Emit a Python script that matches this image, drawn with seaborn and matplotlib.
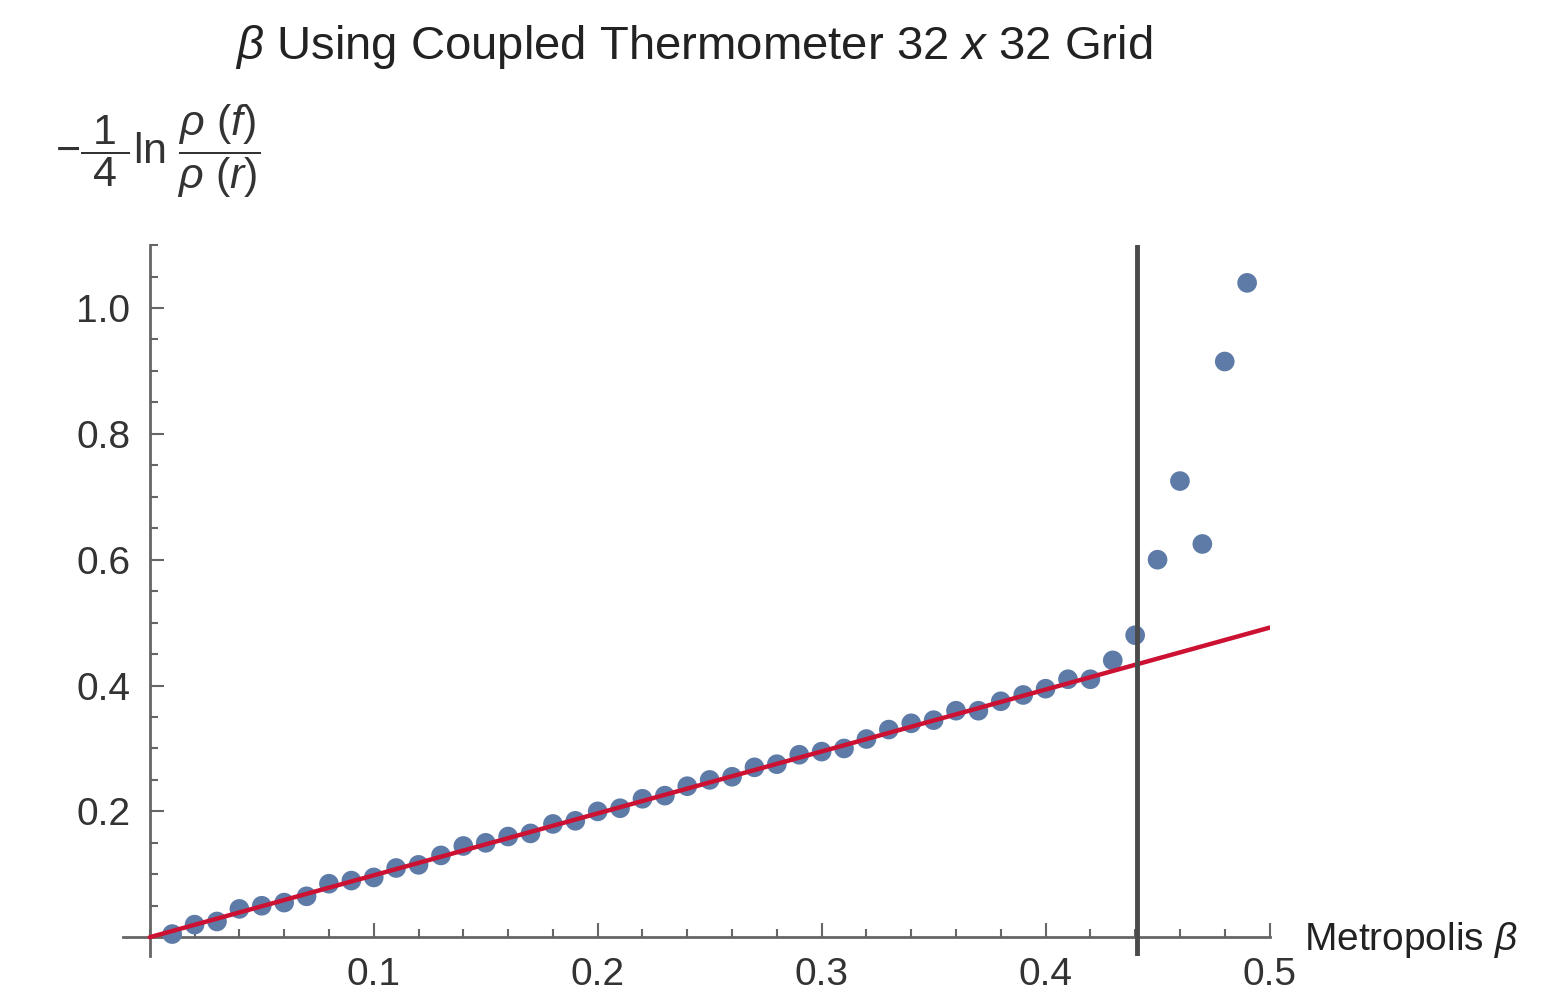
import numpy as np
import pandas as pd
import seaborn as sns
import matplotlib.pyplot as plt
from matplotlib.ticker import MultipleLocator, FixedLocator

# Data
beta = [0.01, 0.02, 0.03, 0.04, 0.05, 0.06, 0.07, 0.08, 0.09, 0.10,
        0.11, 0.12, 0.13, 0.14, 0.15, 0.16, 0.17, 0.18, 0.19, 0.20,
        0.21, 0.22, 0.23, 0.24, 0.25, 0.26, 0.27, 0.28, 0.29, 0.30,
        0.31, 0.32, 0.33, 0.34, 0.35, 0.36, 0.37, 0.38, 0.39, 0.40,
        0.41, 0.42, 0.43, 0.44, 0.45, 0.46, 0.47, 0.48, 0.49]
estimate = [0.005, 0.02, 0.025, 0.045, 0.05, 0.055, 0.065, 0.085, 0.09, 0.095,
            0.11, 0.115, 0.13, 0.145, 0.15, 0.16, 0.165, 0.18, 0.185, 0.20,
            0.205, 0.22, 0.225, 0.24, 0.25, 0.255, 0.27, 0.275, 0.29, 0.295,
            0.30, 0.315, 0.33, 0.34, 0.345, 0.36, 0.36, 0.375, 0.385, 0.395,
            0.41, 0.41, 0.44, 0.48, 0.60, 0.725, 0.625, 0.915, 1.04]
fit_x = [0.0, 0.5]
fit_y = [0.0, 0.492]
beta_c = 0.4407

df = pd.DataFrame({"beta": beta, "est": estimate})
fit = pd.DataFrame({"x": fit_x, "y": fit_y})

sns.set_style("white")
plt.rcParams['font.family'] = ['Liberation Sans', 'DejaVu Sans']
plt.rcParams['mathtext.fontset'] = 'custom'
plt.rcParams['mathtext.rm'] = 'Liberation Sans'
plt.rcParams['mathtext.it'] = 'Liberation Sans:italic'

fig = plt.figure(figsize=(15.6, 9.98), dpi=100)
ax = fig.add_axes([0.0788, 0.042, 0.735, 0.7124])

sns.scatterplot(data=df, x="beta", y="est", ax=ax, color="#5E7BA8", s=200,
                edgecolor="none", zorder=3)
sns.lineplot(data=fit, x="x", y="y", ax=ax, color="#CC1133", linewidth=3.2, zorder=4)
ax.axvline(beta_c, color="#4a4a4a", linewidth=3.5, zorder=5)

ax.set_xlim(-0.012, 0.5)
ax.set_ylim(-0.03, 1.1)
ax.spines['left'].set_position(('data', 0))
ax.spines['bottom'].set_position(('data', 0))
ax.spines['top'].set_visible(False)
ax.spines['right'].set_visible(False)
for s in ['left', 'bottom']:
    ax.spines[s].set_color('#666666')
    ax.spines[s].set_linewidth(2)

ax.xaxis.set_major_locator(FixedLocator([0.1, 0.2, 0.3, 0.4, 0.5]))
ax.xaxis.set_minor_locator(MultipleLocator(0.02))
ax.yaxis.set_major_locator(FixedLocator([0.2, 0.4, 0.6, 0.8, 1.0]))
ax.yaxis.set_minor_locator(MultipleLocator(0.05))
ax.xaxis.set_major_formatter(plt.FuncFormatter(lambda v, p: f"{v:.1f}"))
ax.yaxis.set_major_formatter(plt.FuncFormatter(lambda v, p: f"{v:.1f}"))
ax.tick_params(which='both', direction='in', color='#666666', labelsize=28,
               labelcolor='#333333', width=1.5, bottom=True, left=True)
ax.tick_params(which='major', length=10, pad=14)
ax.tick_params(which='minor', length=6)
ax.set_xlabel("")
ax.set_ylabel("")

fig.text(0.445, 0.953, r"$\beta$ Using Coupled Thermometer 32 $x$ 32 Grid",
         ha='center', va='center', fontsize=34, color='#222222')
fig.text(0.836, 0.058, r"Metropolis $\beta$", ha='left', va='center',
         fontsize=28, color='#222222')
fig.text(0.035, 0.848,
         r"$-\dfrac{\ 1\ }{\ 4\ }\ln\,\dfrac{\rho\ (f)}{\rho\ (r)}$",
         ha='left', va='center', fontsize=31, color='#333333')

fig.savefig("out.png", dpi=100)
